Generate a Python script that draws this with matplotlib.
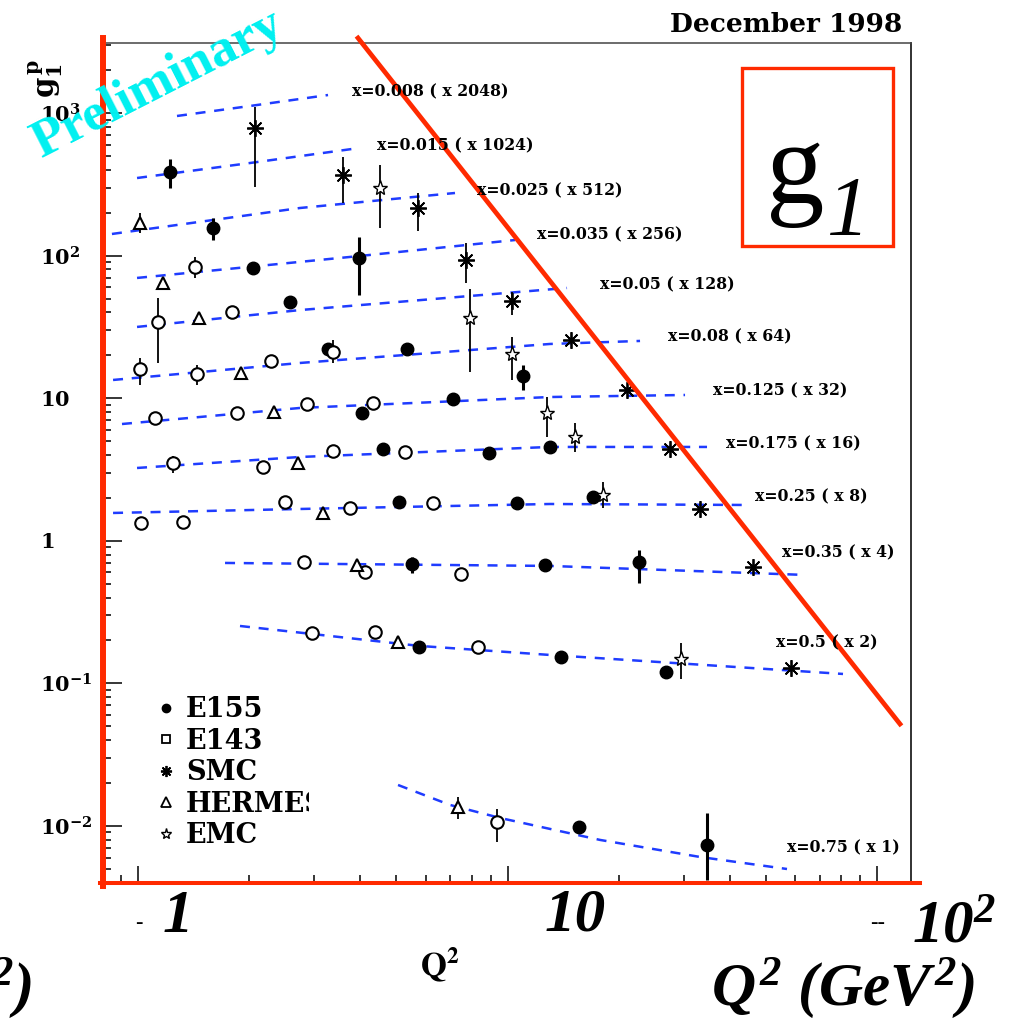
import numpy as np
import matplotlib.pyplot as plt
from matplotlib.lines import Line2D
from matplotlib.patches import Rectangle
from matplotlib.transforms import Bbox, TransformedBbox

plt.rcParams['font.family'] = 'DejaVu Serif'
plt.rcParams['mathtext.fontset'] = 'custom'
plt.rcParams['mathtext.rm'] = 'Liberation Serif:bold:italic'
plt.rcParams['mathtext.it'] = 'Liberation Serif:bold:italic'
plt.rcParams['mathtext.bf'] = 'Liberation Serif:bold:italic'

# ---- fitted curves (Q^2, g1 * scale) ----
fit_q2 = [
    [1.275, 2.01, 3.268],
    [0.994, 2.01, 3.963],
    [0.850, 2.745, 7.209],
    [0.994, 3.988, 10.48],
    [0.994, 2.745, 14.49],
    [0.856, 2.745, 13.03, 22.84],
    [0.905, 2.745, 13.03, 30.23],
    [0.994, 2.745, 13.03, 34.67],
    [0.856, 2.745, 13.03, 45.33],
    [1.720, 13.03, 63.86],
    [1.888, 5.797, 13.03, 80.91],
    [5.055, 6.988, 9.544, 17.80, 33.19, 57.07],
]
fit_g1 = [
    [953, 1120, 1337],
    [350, 446, 568],
    [141.8, 215.7, 274.8],
    [69.7, 99.4, 128.6],
    [31.6, 41.5, 59.3],
    [13.42, 17.66, 24.0, 25.2],
    [6.59, 8.54, 10.19, 10.53],
    [3.24, 3.87, 4.55, 4.55],
    [1.567, 1.671, 1.811, 1.782],
    [0.699, 0.666, 0.576],
    [0.2526, 0.1829, 0.1582, 0.1164],
    [0.01938, 0.01404, 0.01138, 0.00798, 0.00606, 0.00499],
]
curve_labels = ['x=0.008 ( x 2048)', 'x=0.015 ( x 1024)', 'x=0.025 ( x 512)',
                'x=0.035 ( x 256)', 'x=0.05 ( x 128)', 'x=0.08 ( x 64)',
                'x=0.125 ( x 32)', 'x=0.175 ( x 16)', 'x=0.25 ( x 8)',
                'x=0.35 ( x 4)', 'x=0.5 ( x 2)', 'x=0.75 ( x 1)']

nan = np.nan
# ---- data points: Q^2, g1, lower / upper end of error bar ----
e155_q2 = [1.22, 1.60, 2.05, 3.96, 2.58, 3.27, 5.35, 11.0, 4.04, 7.12, 4.60, 8.91,
           13.0, 5.09, 10.6, 17.0, 5.52, 12.6, 22.7, 5.76, 14.0, 26.9, 15.6, 34.7]
e155_g1 = [386, 156, 81.9, 96.2, 47.3, 22.1, 22.1, 14.3, 7.88, 9.87, 4.40, 4.13,
           4.55, 1.87, 1.84, 2.03, 0.688, 0.677, 0.710, 0.180, 0.153, 0.120, 0.00984, 0.00736]
e155_lo = [298, 128.6, nan, 52.9, nan, nan, nan, 11.4, nan, nan, nan, nan,
           nan, nan, nan, nan, 0.594, nan, 0.506, nan, nan, nan, nan, 0.00417]
e155_hi = [476, 183.5, nan, 135, nan, nan, nan, 17.1, nan, nan, nan, nan,
           nan, nan, nan, nan, 0.770, nan, 0.862, nan, nan, nan, nan, 0.01234]

e143_q2 = [1.43, 1.13, 1.80, 1.01, 1.44, 2.29, 3.37, 1.11, 1.85, 2.87, 4.33, 1.24, 2.18,
           3.37, 5.28, 1.02, 1.32, 2.50, 3.75, 6.29, 2.81, 4.11, 7.48, 2.96, 4.38, 8.32, 9.37]
e143_g1 = [83.2, 34.2, 40.2, 16.0, 14.8, 18.2, 21.1, 7.26, 7.88, 9.11, 9.25, 3.51, 3.29,
           4.26, 4.20, 1.33, 1.36, 1.87, 1.70, 1.84, 0.710, 0.604, 0.585, 0.226, 0.229, 0.180, 0.01067]
e143_lo = [69.7, 17.7, nan, 12.4, 12.4, nan, 17.7, nan, nan, nan, nan, 2.99, nan,
           nan, nan, nan, nan, nan, nan, nan, nan, nan, nan, nan, nan, nan, 0.00772]
e143_hi = [97.8, 50.4, nan, 19.1, 17.1, nan, 25.6, nan, nan, nan, nan, 3.93, nan,
           nan, nan, nan, nan, nan, nan, nan, nan, nan, nan, nan, nan, nan, 0.01316]

smc_q2 = [2.07, 3.59, 5.73, 7.72, 10.3, 14.9, 21.1, 27.5, 33.2, 46.2, 58.5]
smc_g1 = [785, 368, 216, 93.1, 48.0, 25.6, 11.4, 4.40, 1.67, 0.655, 0.128]
smc_lo = [303, 234, 149, 64.3, 38.3, nan, nan, nan, nan, nan, nan]
smc_hi = [1102, 492, 275, 123, 55.6, nan, nan, nan, nan, nan, nan]

hermes_q2 = [1.01, 1.17, 1.46, 1.90, 2.33, 2.71, 3.17, 3.91, 5.06, 7.35]
hermes_g1 = [169, 64.3, 36.5, 15.0, 8.00, 3.51, 1.57, 0.677, 0.195, 0.0136]
hermes_lo = [144, nan, nan, nan, nan, nan, nan, nan, nan, 0.0112]
hermes_hi = [199, nan, nan, nan, nan, nan, nan, nan, nan, 0.0160]

emc_q2 = [4.52, 7.92, 10.3, 12.8, 15.2, 18.1, 29.5]
emc_g1 = [298, 36.5, 20.4, 7.88, 5.35, 2.10, 0.148]
emc_lo = [156, 15.3, 13.4, 5.35, 4.20, 1.70, 0.107]
emc_hi = [432, 58.3, 26.9, 10.2, 6.70, 2.58, 0.192]

W, H = 1011, 1021


def fx(px):
    return px / W


def fy(py):
    return 1 - py / H


fig = plt.figure(figsize=(W / 100, H / 100), dpi=100)
ax = fig.add_axes([fx(103), fy(883), fx(911) - fx(103), fy(43) - fy(883)])
ax.set_xscale('log')
ax.set_yscale('log')
ax.set_xlim(0.804, 123.6)
ax.set_ylim(0.00398, 3097)

blue = '#1f3cff'
for q, g in zip(fit_q2, fit_g1):
    ax.plot(q, g, color=blue, lw=1.8, ls=(0, (4, 3.5)), zorder=2)


def series(q2, g1, lo, hi, elw, **kw):
    q2 = np.array(q2)
    g1 = np.array(g1)
    lo = np.array(lo)
    hi = np.array(hi)
    m = ~np.isnan(lo)
    ax.errorbar(q2[m], g1[m], yerr=[g1[m] - lo[m], hi[m] - g1[m]], fmt='none',
                ecolor='k', elinewidth=elw, capsize=0, zorder=3)
    ax.plot(q2, g1, ls='none', zorder=4, **kw)


series(e155_q2, e155_g1, e155_lo, e155_hi, 2.2, marker='o', ms=9, mfc='k', mec='k')
series(e143_q2, e143_g1, e143_lo, e143_hi, 1.3, marker='o', ms=9, mfc='white', mec='k', mew=1.5)
series(smc_q2, smc_g1, smc_lo, smc_hi, 1.3, marker=(8, 2, 0), ms=12, mec='k', mew=1.3)
series(hermes_q2, hermes_g1, hermes_lo, hermes_hi, 1.3, marker='^', ms=9, mfc='white', mec='k', mew=1.5)
series(emc_q2, emc_g1, emc_lo, emc_hi, 1.3, marker='*', ms=11, mfc='white', mec='k', mew=1.0)

# axes styling
ax.spines['left'].set_visible(False)
ax.spines['bottom'].set_visible(False)
ax.spines['top'].set_color('#444444')
ax.spines['top'].set_linewidth(1.1)
ax.spines['right'].set_color('#222222')
ax.spines['right'].set_linewidth(1.3)
ax.tick_params(which='both', direction='in', top=False, right=False, color='k', width=1.1)
ax.tick_params(axis='x', which='major', length=12, labelbottom=False)
ax.tick_params(axis='x', which='minor', length=6)
ax.tick_params(axis='y', which='major', length=14, pad=45)
ax.tick_params(axis='y', which='minor', length=6)
ax.set_xticks([1, 10, 100])
ax.set_xticks([0.9] + list(range(2, 10)) + list(range(20, 100, 10)), minor=True)
ax.set_xticklabels([], minor=True)
ax.set_yticks([1e-2, 1e-1, 1, 10, 1e2, 1e3])
ax.set_yticklabels([r'$\mathbf{10^{-2}}$', r'$\mathbf{10^{-1}}$', r'$\mathbf{1}$',
                    r'$\mathbf{10}$', r'$\mathbf{10^{2}}$', r'$\mathbf{10^{3}}$'], fontsize=15)
for t in ax.get_yticklabels():
    t.set_math_fontfamily('dejavuserif')
    t.set_ha('left')

# curve annotations
label_px = [(352, 92), (377, 146), (477, 191), (537, 235), (600, 285), (668, 337),
            (713, 391), (726, 444), (755, 497), (782, 553), (776, 643), (787, 848)]
for s, (px, py) in zip(curve_labels, label_px):
    fig.text(fx(px), fy(py), s, ha='left', va='center', fontsize=11.3, weight='bold')

# legend
handles = [Line2D([], [], ls='none', marker='o', ms=6, mfc='k', mec='k'),
           Line2D([], [], ls='none', marker='s', ms=5.5, mfc='white', mec='k', mew=1.3),
           Line2D([], [], ls='none', marker=(8, 2, 0), ms=8, mec='k', mew=1.3),
           Line2D([], [], ls='none', marker='^', ms=7, mfc='white', mec='k', mew=1.3),
           Line2D([], [], ls='none', marker='*', ms=8, mfc='white', mec='k', mew=1.0)]
leg = ax.legend(handles, ['E155', 'E143', 'SMC', 'HERMES', 'EMC'], loc='upper left',
                bbox_to_anchor=(fx(152), fy(696)), bbox_transform=fig.transFigure,
                frameon=False, borderpad=0, borderaxespad=0, handlelength=1.0,
                handletextpad=0.25, labelspacing=0.17,
                prop={'family': 'DejaVu Serif', 'weight': 'bold', 'size': 19.5})
clip = TransformedBbox(Bbox.from_extents(0, 0, fx(309), 1), fig.transFigure)
leg.get_texts()[3].set_clip_box(clip)
leg.get_texts()[3].set_clip_on(True)

# red overlay lines
red = '#ff2a00'
fig.add_artist(Line2D([fx(103), fx(103)], [fy(38), fy(886)], color=red, lw=4.3))
fig.add_artist(Line2D([fx(100), fx(920)], [fy(883), fy(883)], color=red, lw=2.9))
fig.add_artist(Line2D([fx(358), fx(900)], [fy(38), fy(724)], color=red, lw=3.4))
fig.add_artist(Rectangle((fx(742), fy(246)), fx(893) - fx(742), fy(68) - fy(246),
                         transform=fig.transFigure, fill=False, ec=red, lw=2.4))
fig.text(fx(795), fy(203), 'g', ha='center', va='baseline', fontsize=84,
         family='Liberation Serif')
fig.text(fx(848), fy(235), '1', ha='center', va='baseline', fontsize=61,
         family='Liberation Serif', style='italic')

# titles and labels
fig.text(fx(902), fy(32), 'December 1998', ha='right', va='baseline',
         fontsize=19, weight='bold')
fig.text(fx(158), fy(84), 'Preliminary', rotation=27, rotation_mode='anchor',
         ha='center', va='center', fontsize=38.5, family='Liberation Serif',
         weight='bold', color='#00f0f0')
fig.text(fx(46), fy(78), r'$\mathbf{g_{1}^{\,p}}$', rotation=90, ha='center',
         va='center', fontsize=21, math_fontfamily='dejavuserif')

big = dict(family='Liberation Serif', weight='bold', style='italic', fontsize=44,
           va='baseline')
fig.text(fx(178), fy(932), '1', ha='center', **big)
fig.text(fx(575), fy(930), '10', ha='center', **big)
fig.text(fx(912), fy(942), r'$10^2$', ha='left', **big)
fig.text(fx(975), fy(1005), r'$Q^2\ (GeV^2)$', ha='right', **big)
fig.text(fx(32), fy(1005), r'$Q^2\ (GeV^2)$', ha='right', **big)
fig.text(fx(139), fy(928), '-', ha='center', va='baseline', fontsize=16, weight='bold',
         family='Liberation Serif')
fig.text(fx(878), fy(928), '--', ha='center', va='baseline', fontsize=16, weight='bold',
         family='Liberation Serif')
fig.text(fx(440), fy(976), r'$\mathbf{Q^2}$', ha='center', va='baseline', fontsize=24,
         math_fontfamily='stix')

fig.savefig('out.png', dpi=100)
